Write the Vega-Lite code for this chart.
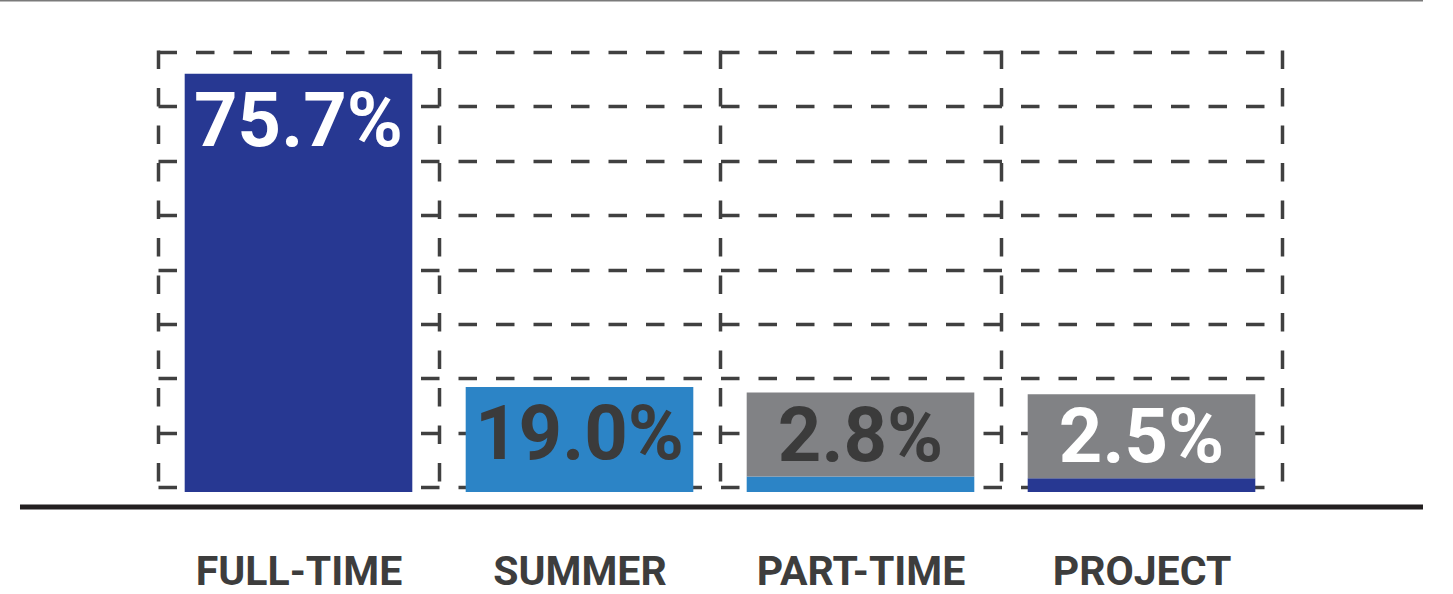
{
  "$schema": "https://vega.github.io/schema/vega-lite/v6.json",
  "width": 1124,
  "height": 442,
  "autosize": "none",
  "padding": {"left": 158, "top": 50, "right": 171, "bottom": 102},
  "background": "white",
  "config": {"view": {"stroke": null}},
  "resolve": {"scale": {"x": "independent"}, "axis": {"x": "independent"}},
  "layer": [
    {
      "data": {"values": [
        {"job": "FULL-TIME", "share": 0.757},
        {"job": "SUMMER", "share": 0.190},
        {"job": "PART-TIME", "share": 0.028},
        {"job": "PROJECT", "share": 0.025}
      ]},
      "layer": [
        {
          "mark": {"type": "bar", "width": {"band": 0.81}},
          "encoding": {
            "x": {"field": "job", "type": "nominal", "sort": null,
              "scale": {"domain": ["FULL-TIME", "SUMMER", "PART-TIME", "PROJECT"], "paddingInner": 0, "paddingOuter": 0},
              "axis": {"title": null, "labelAngle": 0, "ticks": false, "domain": false,
                "labelFont": "Roboto", "labelFontSize": 41, "labelFontWeight": "bold",
                "labelColor": "#3d3d3d", "labelPadding": 92, "labelBaseline": "alphabetic", "labelLimit": 400,
                "labelOverlap": false,
                "grid": true, "tickBand": "extent", "gridColor": "#404040", "gridWidth": 3.5, "gridDash": [18.5, 19]}},
            "y": {"field": "share", "type": "quantitative",
              "scale": {"domain": [0, 0.8], "nice": false, "zero": false},
              "axis": {"title": null, "labels": false, "ticks": false, "domain": false, "grid": true,
                "values": [0.009, 0.1074, 0.2059, 0.3043, 0.4027, 0.5011, 0.5996, 0.698, 0.7964],
                "gridColor": "#404040", "gridWidth": 3.5, "gridDash": [18.5, 19]}},
            "color": {"field": "job", "type": "nominal", "legend": null,
              "scale": {"domain": ["FULL-TIME", "SUMMER", "PART-TIME", "PROJECT"],
                "range": ["#273892", "#2c84c6", "#2c84c6", "#273892"]}}
          }
        },
        {
          "transform": [{"filter": "datum.share < 0.05"}],
          "mark": {"type": "bar", "width": {"band": 0.81}, "color": "#818285", "yOffset": -84},
          "encoding": {
            "x": {"field": "job", "type": "nominal", "sort": null},
            "y": {"field": "share", "type": "quantitative"},
            "y2": {"field": "share"}
          }
        },
        {
          "transform": [{"filter": "datum.share >= 0.05"}],
          "mark": {"type": "text", "font": "Roboto", "fontSize": 76, "fontWeight": "bold",
            "baseline": "alphabetic", "align": "center", "dy": 72},
          "encoding": {
            "x": {"field": "job", "type": "nominal", "sort": null},
            "y": {"field": "share", "type": "quantitative"},
            "text": {"field": "share", "type": "quantitative", "format": ".1%"},
            "color": {"condition": {"test": "datum.job === 'SUMMER' || datum.job === 'PART-TIME'", "value": "#3b3b3b"}, "value": "#ffffff"}
          }
        },
        {
          "transform": [{"filter": "datum.share < 0.05"}],
          "mark": {"type": "text", "font": "Roboto", "fontSize": 76, "fontWeight": "bold",
            "baseline": "alphabetic", "align": "center", "dy": -16},
          "encoding": {
            "x": {"field": "job", "type": "nominal", "sort": null},
            "y": {"field": "share", "type": "quantitative"},
            "text": {"field": "share", "type": "quantitative", "format": ".1%"},
            "color": {"condition": {"test": "datum.job === 'SUMMER' || datum.job === 'PART-TIME'", "value": "#3b3b3b"}, "value": "#ffffff"}
          }
        }
      ]
    },
    {
      "data": {"values": [{}]},
      "mark": {"type": "rule", "color": "#231f20", "strokeWidth": 5},
      "encoding": {
        "x": {"datum": -0.12278, "type": "quantitative", "scale": {"domain": [0, 1], "nice": false, "zero": false}, "axis": null},
        "x2": {"datum": 1.12544},
        "y": {"datum": -0.0271, "type": "quantitative"}
      }
    },
    {
      "data": {"values": [{}]},
      "mark": {"type": "rule", "color": "#7a7a7a", "strokeWidth": 2},
      "encoding": {
        "x": {"datum": -0.14057, "type": "quantitative", "scale": {"domain": [0, 1], "nice": false, "zero": false}, "axis": null},
        "x2": {"datum": 1.12544},
        "y": {"datum": 0.8896, "type": "quantitative"}
      }
    }
  ]
}
